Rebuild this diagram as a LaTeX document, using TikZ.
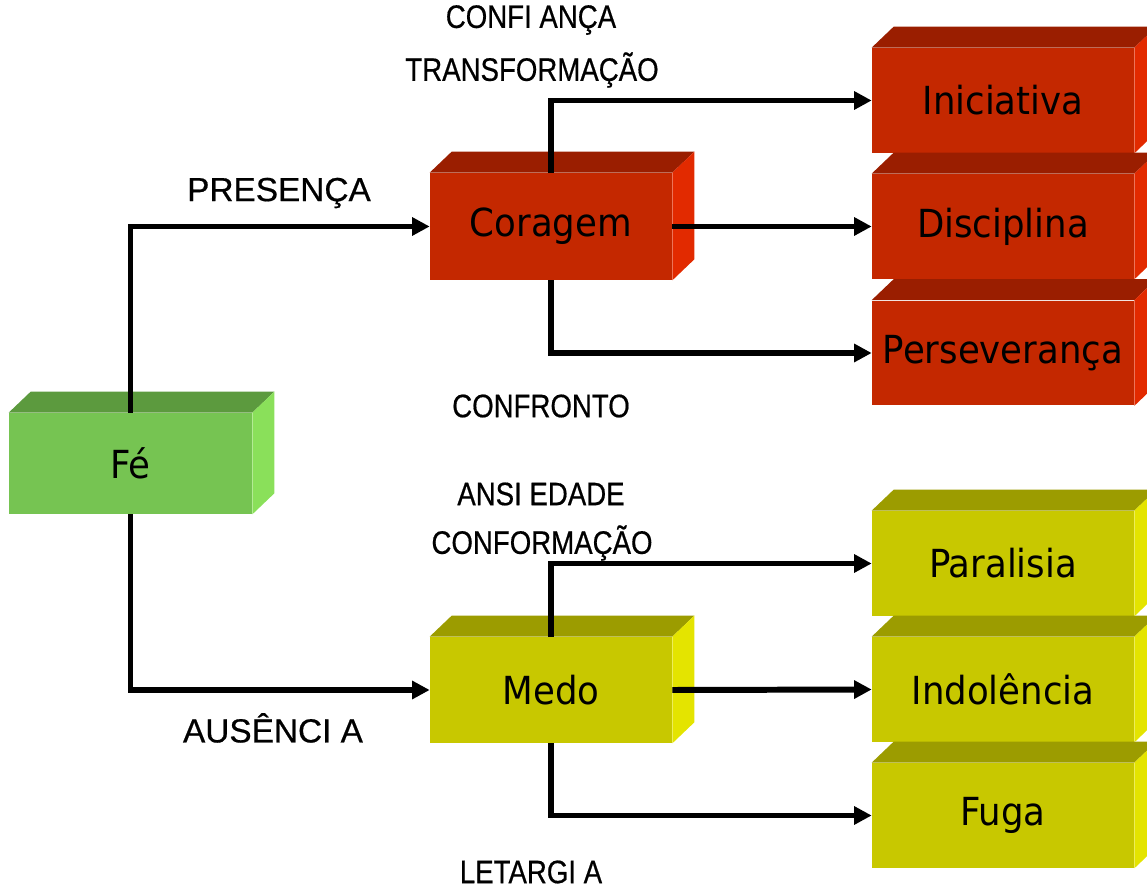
\documentclass[tikz,border=0pt]{standalone}
\usepackage{fontspec}
\usepackage{tikz}
\usetikzlibrary{arrows.meta}
\newfontfamily\boxfont[FakeStretch=0.92]{DejaVu Sans}
\newfontfamily\labfont[FakeBold=0.5]{Liberation Sans}
\newfontfamily\midfont[FakeStretch=0.85, FakeBold=0.5]{Liberation Sans}

\definecolor{redfront}{RGB}{196,40,0}
\definecolor{redtop}{RGB}{154,30,0}
\definecolor{redside}{RGB}{226,42,0}
\definecolor{grnfront}{RGB}{118,196,82}
\definecolor{grntop}{RGB}{92,154,62}
\definecolor{grnside}{RGB}{138,224,90}
\definecolor{ylwfront}{RGB}{200,200,0}
\definecolor{ylwtop}{RGB}{156,156,0}
\definecolor{ylwside}{RGB}{228,228,0}

\tikzset{
  front/.style={inner sep=0pt, minimum width=4.84cm, minimum height=2.12cm,
    font=\boxfont\fontsize{22}{26}\selectfont},
  leaf/.style={front, minimum width=5.24cm, minimum height=2.1cm},
  lab/.style={font=\labfont\fontsize{19}{22}\selectfont, inner sep=0pt},
  midlab/.style={lab, font=\midfont\fontsize{18.5}{22}\selectfont},
  conn/.style={line width=3.4pt, -{Triangle[length=10pt,width=10pt]}}
}

\begin{document}
\begin{tikzpicture}[x=0.02cm, y=-0.02cm]
\useasboundingbox (0,0) rectangle (1147,888);
\clip (0,0) rectangle (1147,888);

% boxes (front faces)
\node[front, fill=grnfront, minimum width=4.86cm, minimum height=2.02cm] (fe) at (130.5,463.5) {Fé};
\node[front, fill=redfront, minimum height=2.14cm] (coragem) at (551,226.5) {Coragem};
\node[front, fill=ylwfront] (medo) at (551,690) {Medo};
\node[leaf, fill=redfront] (iniciativa) at (1003,100.5) {Iniciativa};
\node[leaf, fill=redfront] (disciplina) at (1003,226.5) {Disciplina};
\node[leaf, fill=redfront] (perseveranca) at (1003,353) {Perseverança};
\node[leaf, fill=ylwfront] (paralisia) at (1003,563.5) {Paralisia};
\node[leaf, fill=ylwfront] (indolencia) at (1003,689.5) {Indolência};
\node[leaf, fill=ylwfront] (fuga) at (1003,815.5) {Fuga};

% depth faces
\foreach \b/\c in {fe/grn, coragem/red, medo/ylw, iniciativa/red, disciplina/red,
    perseveranca/red, paralisia/ylw, indolencia/ylw, fuga/ylw}{
  \fill[\c top] (\b.north west) -- ++(22,-21) -- ([shift={(22,-21)}]\b.north east)
    -- (\b.north east) -- cycle;
  \fill[\c side] (\b.north east) -- ++(22,-21) -- ([shift={(22,-21)}]\b.south east)
    -- (\b.south east) -- cycle;
}

% connectors
\draw[conn] (fe.north) |- (coragem.west);
\draw[conn] (fe.south) |- (medo.west);
\draw[conn] (coragem.north) |- (iniciativa.west);
\draw[conn] (coragem.east) -- (disciplina.west);
\draw[conn] (coragem.south) |- (perseveranca.west);
\draw[conn] (medo.north) |- (paralisia.west);
\draw[conn] (medo.east) -- (indolencia.west);
\draw[conn] (medo.south) |- (fuga.west);

% labels
\node[lab] (presenca) at (279,193) {PRESENÇA};
\node[lab] (ausencia) at (273,728) {AUSÊNCI A};
\node[midlab] (confianca) at (531,20) {CONFI ANÇA};
\node[midlab] (transformacao) at (532,70) {TRANSFORMAÇÃO};
\node[midlab] (confronto) at (541,406) {CONFRONTO};
\node[midlab] (ansiedade) at (541,494) {ANSI EDADE};
\node[midlab] (conformacao) at (542,543) {CONFORMAÇÃO};
\node[midlab] (letargia) at (531,872) {LETARGI A};
\end{tikzpicture}
\end{document}
